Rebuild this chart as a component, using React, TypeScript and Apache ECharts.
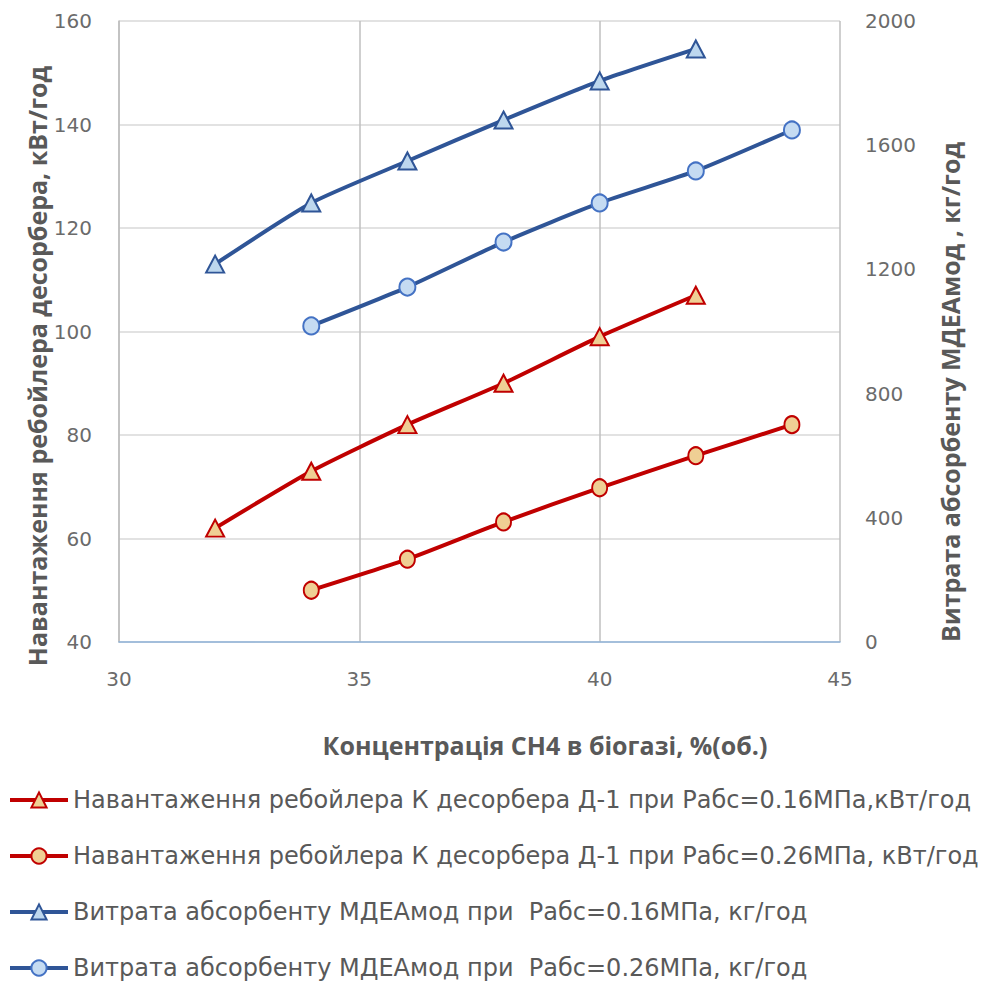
import React, { useEffect, useRef } from "react";
import * as echarts from "echarts";

const xTri = [32, 34, 36, 38, 40, 42];
const xCir = [34, 36, 38, 40, 42, 44];
const reboilerP016 = [62, 73, 82, 90, 99, 107];
const reboilerP026 = [50, 56, 63.2, 69.8, 76, 82];
const absorbP016 = [1217, 1414, 1549, 1681, 1807, 1910];
const absorbP026 = [1018, 1143, 1288, 1414, 1517, 1649];

const seriesNames = [
  "Навантаження ребойлера К десорбера Д-1 при Рабс=0.16МПа,кВт/год",
  "Навантаження ребойлера К десорбера Д-1 при Рабс=0.26МПа, кВт/год",
  "Витрата абсорбенту МДЕАмод при  Рабс=0.16МПа, кг/год",
  "Витрата абсорбенту МДЕАмод при  Рабс=0.26МПа, кг/год",
];

const xTitle = "Концентрація СН4 в біогазі, %(об.)";
const yLeftTitle = "Навантаження ребойлера десорбера, кВт/год";
const yRightTitle = "Витрата абсорбенту МДЕАмод , кг/год";

const zip = (xs: number[], ys: number[]) => xs.map((x, i) => [x, ys[i]]);

export default function App() {
  const ref = useRef<HTMLDivElement>(null);
  useEffect(() => {
    if (!ref.current) return;
    const chart = echarts.init(ref.current, undefined, { renderer: "svg" });
    const tickFont = { fontFamily: "DejaVu Sans", fontSize: 20, color: "#6b6b6b" };
    const titleStyle = {
      fontFamily: "Open Sans",
      fontWeight: "bold" as const,
      fontSize: 25,
      fill: "#595959",
    };
    const red = "#c00000";
    const blue = "#2f5597";
    chart.setOption({
      animation: false,
      backgroundColor: "#ffffff",
      grid: { left: 119, right: 154, top: 21, bottom: 345 },
      xAxis: {
        type: "value",
        min: 30,
        max: 45,
        interval: 5,
        axisLine: { show: true, lineStyle: { color: "#8fb3d9", width: 1.5 } },
        axisTick: { show: false },
        axisLabel: { ...tickFont, margin: 27 },
        splitLine: { show: true, lineStyle: { color: "#bfbfbf", width: 1.5 } },
      },
      yAxis: [
        {
          type: "value",
          min: 40,
          max: 160,
          interval: 20,
          axisLine: { show: true, lineStyle: { color: "#bfbfbf", width: 1.5 } },
          axisTick: { show: false },
          axisLabel: { ...tickFont, margin: 27 },
          splitLine: { show: true, lineStyle: { color: "#d9d9d9", width: 1.5 } },
        },
        {
          type: "value",
          min: 0,
          max: 2000,
          interval: 400,
          position: "right",
          axisLine: { show: false },
          axisTick: { show: false },
          axisLabel: { ...tickFont, margin: 25, formatter: (v: number) => String(v) },
          splitLine: { show: false },
        },
      ],
      legend: {
        orient: "vertical",
        left: 8,
        top: 788,
        height: 200,
        padding: 0,
        itemWidth: 58,
        itemHeight: 19,
        itemGap: 32,
        lineStyle: { width: 4 },
        textStyle: { fontFamily: "DejaVu Sans", fontSize: 24, color: "#595959", lineHeight: 24 },
        data: seriesNames,
      },
      series: [
        {
          name: seriesNames[0],
          type: "line",
          yAxisIndex: 0,
          data: zip(xTri, reboilerP016),
          smooth: 0.2,
          symbol: "triangle",
          symbolSize: [18, 17],
          lineStyle: { color: red, width: 4 },
          itemStyle: { color: "#efcf94", borderColor: red, borderWidth: 2 },
        },
        {
          name: seriesNames[1],
          type: "line",
          yAxisIndex: 0,
          data: zip(xCir, reboilerP026),
          smooth: 0.2,
          symbol: "circle",
          symbolSize: [15, 17],
          lineStyle: { color: red, width: 4 },
          itemStyle: { color: "#efcf94", borderColor: red, borderWidth: 2 },
        },
        {
          name: seriesNames[2],
          type: "line",
          yAxisIndex: 1,
          data: zip(xTri, absorbP016),
          smooth: 0.2,
          symbol: "triangle",
          symbolSize: [18, 17],
          lineStyle: { color: blue, width: 4 },
          itemStyle: { color: "#bdd7ee", borderColor: blue, borderWidth: 2 },
        },
        {
          name: seriesNames[3],
          type: "line",
          yAxisIndex: 1,
          data: zip(xCir, absorbP026),
          smooth: 0.2,
          symbol: "circle",
          symbolSize: [16, 17],
          lineStyle: { color: blue, width: 4 },
          itemStyle: { color: "#c5dbf2", borderColor: "#4472c4", borderWidth: 2 },
        },
      ],
      graphic: [
        {
          type: "text",
          x: 545,
          y: 745,
          style: { ...titleStyle, text: xTitle, textAlign: "center", textVerticalAlign: "middle" },
        },
        {
          type: "text",
          x: 37,
          y: 366,
          rotation: Math.PI / 2,
          style: { ...titleStyle, text: yLeftTitle, textAlign: "center", textVerticalAlign: "middle" },
        },
        {
          type: "text",
          x: 950,
          y: 392,
          rotation: Math.PI / 2,
          style: { ...titleStyle, text: yRightTitle, textAlign: "center", textVerticalAlign: "middle" },
        },
      ],
    });
    return () => chart.dispose();
  }, []);
  return <div ref={ref} style={{ width: 994, height: 987, position: "absolute", left: 0, top: 0 }} />;
}
